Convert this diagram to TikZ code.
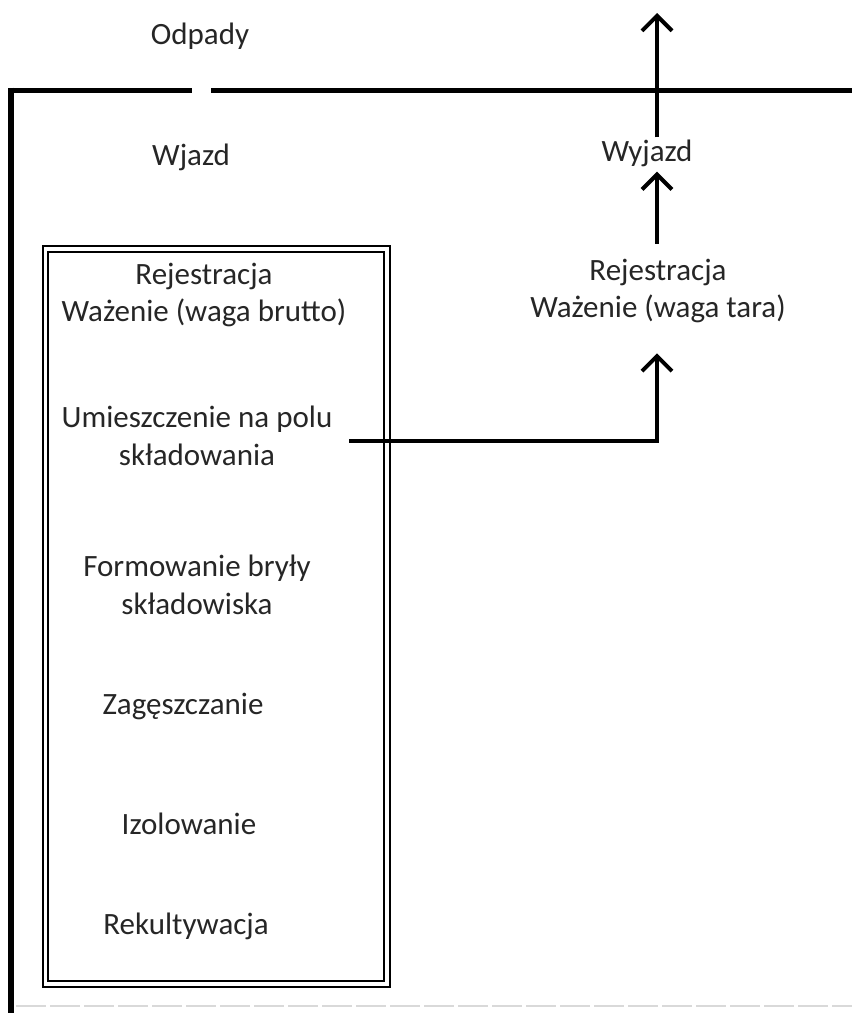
\documentclass[tikz,border=0pt]{standalone}
\usepackage{fontspec}
\setmainfont{Carlito}
\usetikzlibrary{arrows.meta}
\begin{document}
\begin{tikzpicture}[x=1pt,y=-1pt,
  lbl/.style={inner sep=2pt,align=center,font=\fontsize{31}{37.5}\selectfont,text=black!85},
  arr/.style={line width=4pt,-{Straight Barb[length=15pt,width=30pt,line width=4pt]}},
  wall/.style={line width=5pt},
  boxline/.style={line width=2pt}]
\useasboundingbox (0,0) rectangle (852,1013);
% outer walls
\draw[wall] (8,90) -- (192,90);
\draw[wall] (211,90) -- (852,90);
\draw[line width=6pt] (11,87.5) -- (11,1013);
\draw[gray!30,line width=1.2pt,dash pattern=on 30pt off 4pt] (16,1006) -- (852,1006);
% double box
\draw[boxline] (43,246) rectangle (390,987);
\draw[boxline] (48,252) rectangle (384,981);
% labels
\node[lbl] (odp) at (200,36) {Odpady};
\node[lbl] (wj) at (191,157) {Wjazd};
\node[lbl] (wy) at (647,153) {Wyjazd};
\node[lbl] (tara) at (658,291) {Rejestracja\\Ważenie (waga tara)};
\node[lbl] (brutto) at (204,295) {Rejestracja\\Ważenie (waga brutto)};
\node[lbl] (umi) at (197,436) {Umieszczenie na polu\\składowania};
\node[lbl] (form) at (197,585) {Formowanie bryły\\składowiska};
\node[lbl] (zag) at (183,706) {Zagęszczanie};
\node[lbl] (izo) at (189,824) {Izolowanie};
\node[lbl] (rek) at (186,926) {Rekultywacja};
% connectors
\coordinate (out) at (657,13);
\coordinate (m) at (349,441);
\draw[arr] (wy.north -| out) -- (out);
\draw[arr] ([yshift=13pt]tara.north -| out) -- ([yshift=-3pt]wy.south -| out);
\draw[arr] (m) -| ([yshift=-28pt]tara.south -| out);
\end{tikzpicture}
\end{document}
